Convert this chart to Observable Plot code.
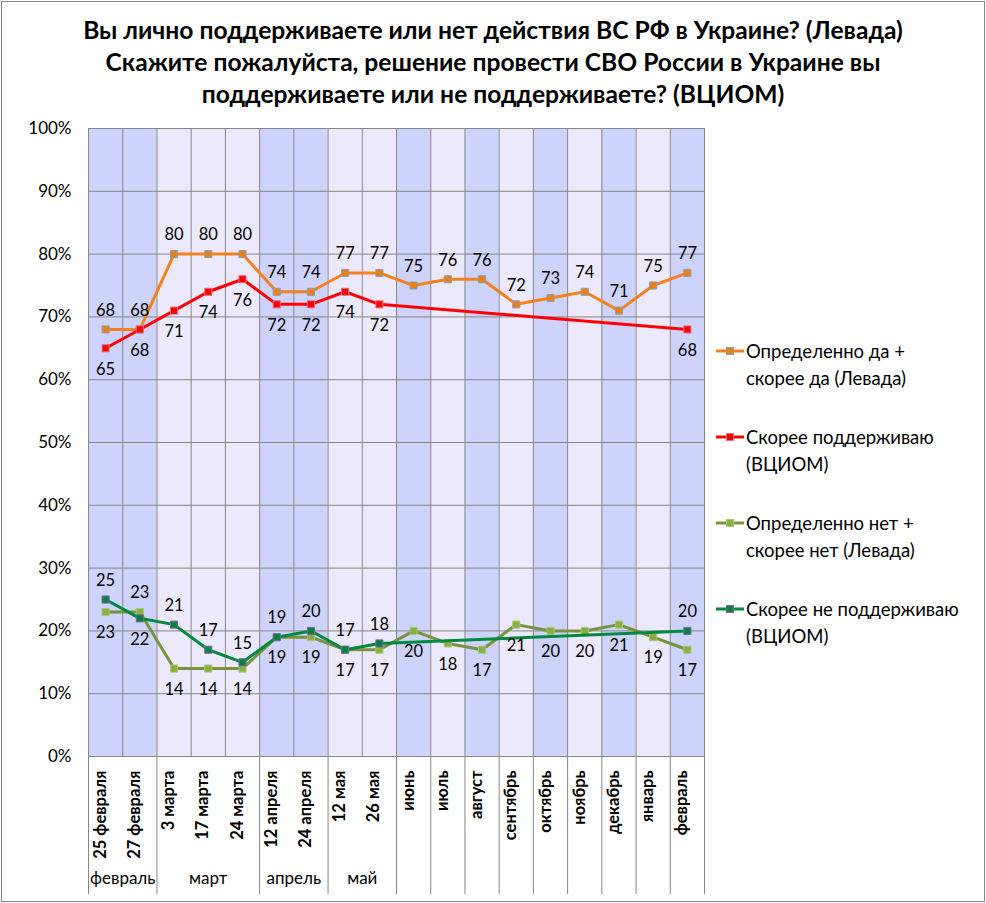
<!DOCTYPE html>
<html>
<head>
<meta charset="utf-8">
<script src="https://cdn.jsdelivr.net/npm/d3@7"></script>
<script src="https://cdn.jsdelivr.net/npm/@observablehq/plot@0.6"></script>
<style>
  body { margin: 0; background: #fff; font-family: Lato, "Open Sans", sans-serif; }
  #wrap { position: relative; width: 986px; height: 903px; overflow: hidden; }
  #frame { position: absolute; left: 1px; top: 1px; width: 984px; height: 901px; box-sizing: border-box; border: 1px solid #868686; pointer-events: none; }
  #title { position: absolute; left: 0; top: 14px; width: 986px; text-align: center; font-weight: bold; font-size: 24.6px; line-height: 32px; color: #000; }
  #chart { position: absolute; left: 0; top: 112px; }
  #legend { position: absolute; left: 716px; top: 338px; font-size: 18.5px; line-height: 27px; color: #000; }
  .entry { position: relative; padding-left: 30px; margin-bottom: 32px; white-space: nowrap; }
  .entry svg { position: absolute; left: 0; top: 8px; }
</style>
</head>
<body>
<div id="wrap">
  <div id="title"></div>
  <div id="chart"></div>
  <div id="legend"></div>
  <div id="frame"></div>
</div>
<script>
// ---- data ----
const titleLines = [
  "Вы лично поддерживаете или нет действия ВС РФ в Украине? (Левада)",
  "Скажите пожалуйста, решение провести СВО России в Украине вы",
  "поддерживаете или не поддерживаете? (ВЦИОМ)"
];
const categories = ["25 февраля","27 февраля","3 марта","17 марта","24 марта","12 апреля","24 апреля","12 мая","26 мая","июнь","июль","август","сентябрь","октябрь","ноябрь","декабрь","январь","февраль"];
const monthGroups = ["февраль","февраль","март","март","март","апрель","апрель","май","май",null,null,null,null,null,null,null,null,null];
const bandShade = ["b","b","l","l","l","b","b","l","l","b","l","b","l","b","l","b","l","b"];
const levadaYes = [68,68,80,80,80,74,74,77,77,75,76,76,72,73,74,71,75,77];
const vciomYes  = [65,68,71,74,76,72,72,74,72,null,null,null,null,null,null,null,null,68];
const levadaNo  = [23,23,14,14,14,19,19,17,17,20,18,17,21,20,20,21,19,17];
const vciomNo   = [25,22,21,17,15,19,20,17,18,null,null,null,null,null,null,null,null,20];
const levadaNoAbove = [false,true,false,false,false,false,false,false,false,false,false,false,false,false,false,false,false,false];
const vciomNoAbove  = [true,false,true,true,true,true,true,true,true,null,null,null,null,null,null,null,null,true];
const yTicks = [0,10,20,30,40,50,60,70,80,90,100];
const seriesNames = ["Определенно да +\nскорее да (Левада)","Скорее поддерживаю\n(ВЦИОМ)","Определенно нет +\nскорее нет (Левада)","Скорее не поддерживаю\n(ВЦИОМ)"];

// ---- styles ----
const C = {
  bandB: "#cdd3fb", bandL: "#ece9fc", grid: "#868686",
  orange: "#f5801e", orangeM: "#f07f09", orangeS: "#7f9fcf",
  red: "#ff0000", redM: "#ff0000", redS: "#e07080",
  olive: "#77933c", oliveM: "#8aad44", oliveS: "#a8c86c",
  green: "#00893f", greenM: "#00843d", greenS: "#8064a2"
};

document.getElementById("title").innerHTML = titleLines.join("<br>");

const rows = categories.map((c, i) => ({
  c, i, x: i + 0.5, shade: bandShade[i], group: monthGroups[i],
  ly: levadaYes[i], vy: vciomYes[i], ln: levadaNo[i], vn: vciomNo[i],
  lnAbove: levadaNoAbove[i], vnAbove: vciomNoAbove[i]
}));
const vyRows = rows.filter(d => d.vy != null);
const vnRows = rows.filter(d => d.vn != null);

// group separators and labels below axis
const seps = [0];
for (let i = 1; i <= categories.length; i++) {
  if (i === categories.length || monthGroups[i] == null || monthGroups[i] !== monthGroups[i - 1]) seps.push(i);
}
const groups = [];
categories.forEach((c, i) => {
  const g = monthGroups[i];
  if (g == null) return;
  const last = groups[groups.length - 1];
  if (last && last.name === g) last.to = i + 1; else groups.push({name: g, from: i, to: i + 1});
});

const fontLbl = "Lato, 'Open Sans', sans-serif";
const lineMarks = (data, key, stroke, fill, mstroke) => [
  Plot.line(data, {x: "x", y: key, stroke, strokeWidth: 3, curve: "linear"}),
  Plot.dot(data, {x: "x", y: key, symbol: "square", r: 4, fill, stroke: mstroke, strokeWidth: 1})
];
const LBL = 16.5;

const plot = Plot.plot({
  width: 986, height: 791,
  marginTop: 16, marginBottom: 147, marginLeft: 88, marginRight: 282,
  style: {background: "transparent", fontFamily: fontLbl, overflow: "visible"},
  x: {domain: [0, categories.length], axis: null},
  y: {domain: [0, 100], axis: null},
  marks: [
    Plot.rect(rows.filter(d => d.shade === "b"), {x1: "i", x2: d => d.i + 1, y1: 0, y2: 100, fill: C.bandB}),
    Plot.rect(rows.filter(d => d.shade === "l"), {x1: "i", x2: d => d.i + 1, y1: 0, y2: 100, fill: C.bandL}),
    Plot.ruleX(d3.range(0, categories.length + 1), {stroke: C.grid, strokeWidth: 1}),
    Plot.ruleY(yTicks, {stroke: C.grid, strokeWidth: 1}),
    Plot.ruleX(seps, {stroke: C.grid, insetTop: 628, insetBottom: -138}),
    Plot.text(yTicks, {y: d => d, frameAnchor: "left", dx: -17, textAnchor: "end", text: d => d + "%", fontSize: 17, fill: "#000"}),
    Plot.text(rows, {x: "x", frameAnchor: "bottom", rotate: -90, textAnchor: "end", dy: 14, text: "c", fontSize: 16.5, fontWeight: "bold", fill: "#000"}),
    Plot.text(groups, {x: d => (d.from + d.to) / 2, frameAnchor: "bottom", dy: 127, text: "name", fontSize: 17, fill: "#000"}),
    ...lineMarks(rows, "ly", C.orange, C.orangeM, C.orangeS),
    ...lineMarks(vyRows, "vy", C.red, C.redM, C.redS),
    ...lineMarks(rows, "ln", C.olive, C.oliveM, C.oliveS),
    ...lineMarks(vnRows, "vn", C.green, C.greenM, C.greenS),
    Plot.text(rows, {x: "x", y: "ly", text: "ly", dy: -19, fontSize: LBL, fill: "#000"}),
    Plot.text(vyRows, {x: "x", y: "vy", text: "vy", dy: 21, fontSize: LBL, fill: "#000"}),
    Plot.text(rows.filter(d => d.lnAbove), {x: "x", y: "ln", text: "ln", dy: -19, fontSize: LBL, fill: "#000"}),
    Plot.text(rows.filter(d => !d.lnAbove), {x: "x", y: "ln", text: "ln", dy: 21, fontSize: LBL, fill: "#000"}),
    Plot.text(vnRows.filter(d => d.vnAbove), {x: "x", y: "vn", text: "vn", dy: -19, fontSize: LBL, fill: "#000"}),
    Plot.text(vnRows.filter(d => !d.vnAbove), {x: "x", y: "vn", text: "vn", dy: 21, fontSize: LBL, fill: "#000"})
  ]
});
document.getElementById("chart").appendChild(plot);

// legend
const legendStyles = [
  [C.orange, C.orangeM, C.orangeS],
  [C.red, C.redM, C.redS],
  [C.olive, C.oliveM, C.oliveS],
  [C.green, C.greenM, C.greenS]
];
const leg = d3.select("#legend");
seriesNames.forEach((name, k) => {
  const [ls, mf, ms] = legendStyles[k];
  const e = leg.append("div").attr("class", "entry");
  const s = e.append("svg").attr("width", 28).attr("height", 10);
  s.append("line").attr("x1", 0).attr("x2", 28).attr("y1", 5).attr("y2", 5).attr("stroke", ls).attr("stroke-width", 3);
  s.append("rect").attr("x", 10.5).attr("y", 1.5).attr("width", 7).attr("height", 7).attr("fill", mf).attr("stroke", ms);
  e.append("div").html(name.replace("\n", "<br>"));
});
</script>
</body>
</html>
